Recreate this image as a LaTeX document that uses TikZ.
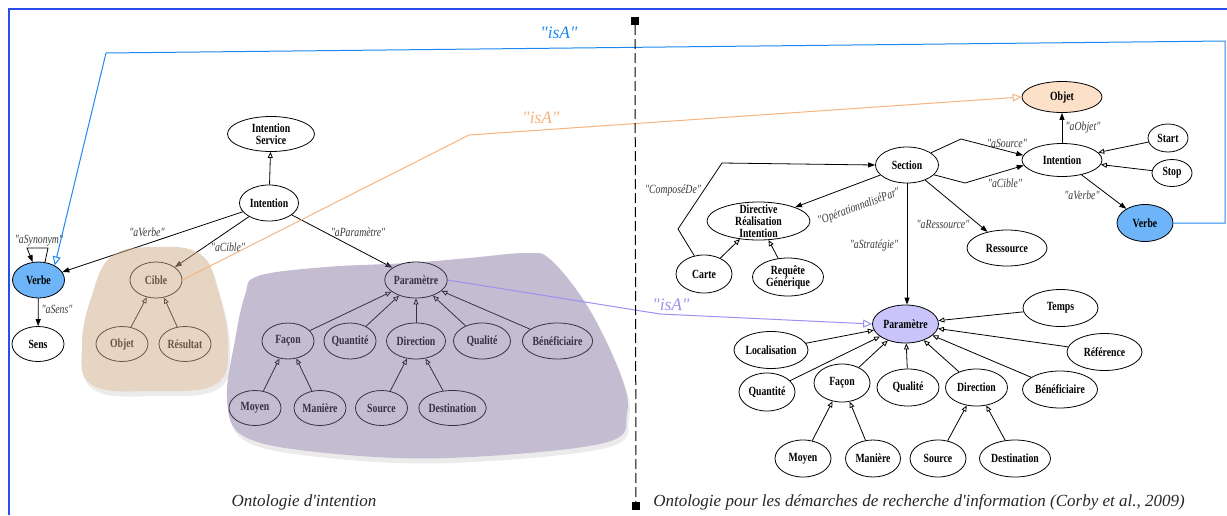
\documentclass[tikz,border=0pt]{standalone}
\usepackage{fontspec}
\setmainfont{Liberation Serif}[Ligatures=TeXOff]
\newfontfamily\nfont{Liberation Serif}[FakeStretch=0.78, Ligatures=TeXOff]
\usetikzlibrary{shapes.geometric, arrows.meta}
\definecolor{frameblue}{HTML}{2A4DF0}
\definecolor{isablue}{HTML}{1E88F0}
\definecolor{isaorange}{HTML}{F8B47E}
\definecolor{isapurple}{HTML}{9C90F2}
\definecolor{verbefill}{HTML}{6DB5F8}
\definecolor{objfill}{HTML}{FCE0C8}
\definecolor{paramfill}{HTML}{C9C5FA}
\definecolor{tanblob}{HTML}{D1AD8A}
\definecolor{purpblob}{HTML}{7D6B99}
\definecolor{lblgray}{HTML}{3A3A3A}
\begin{document}
\begin{tikzpicture}[x=1pt,y=-1pt,
  nd/.style={ellipse, draw, line width=0.8pt, inner sep=0pt, align=center,
    font=\nfont\bfseries\fontsize{12.5}{12}\selectfont},
  sz/.style 2 args={minimum width=#1pt, minimum height=#2pt},
  txt/.style={inner sep=0pt, align=center, font=\nfont\bfseries\fontsize{12.5}{12}\selectfont},
  lbl/.style={inner sep=0pt, text=lblgray, font=\nfont\itshape\fontsize{12.5}{12}\selectfont},
  isalbl/.style={inner sep=0pt, font=\itshape\fontsize{17.5}{18}\selectfont},
  caption/.style={inner sep=0pt, text=black!85, font=\itshape\fontsize{17}{18}\selectfont},
  rel/.style={draw, line width=0.8pt, -{Triangle[length=7pt,width=5pt]}},
  sub/.style={draw, line width=0.8pt, -{Triangle[open,length=6pt,width=5pt]}},
  isa/.style={draw=#1, line width=1pt, -{Triangle[open,length=9pt,width=8pt]}},
  sq/.style={fill=black, minimum size=8pt, inner sep=0pt}
]
\useasboundingbox (0,0) rectangle (1227,515);
% frame
\draw[frameblue, line width=1.8pt] (9,515) -- (9,9) -- (1227,9);

% blob shadows and white base
\fill[black!8, shift={(2,5)}] plot[smooth cycle, tension=0.7] coordinates {(155,247) (200,254) (218,290) (228,345) (216,384) (155,391) (92,385) (82,345) (92,295) (112,256)};
\fill[black!8, shift={(2,5)}] plot[smooth cycle, tension=0.6] coordinates {(258,276) (326,267) (408,263) (469,258) (527,253) (551,260) (588,307) (620,373) (627,413) (604,443) (449,458) (326,453) (245,437) (227,400) (235,340) (245,295)};
\fill[white] plot[smooth cycle, tension=0.7] coordinates {(155,247) (200,254) (218,290) (228,345) (216,384) (155,391) (92,385) (82,345) (92,295) (112,256)};
\fill[white] plot[smooth cycle, tension=0.6] coordinates {(258,276) (326,267) (408,263) (469,258) (527,253) (551,260) (588,307) (620,373) (627,413) (604,443) (449,458) (326,453) (245,437) (227,400) (235,340) (245,295)};

% ---------- left ontology ----------
\node[nd, sz={87}{35}] (IS) at (271,134) {Intention\\Service};
\node[nd, sz={59}{36}] (IL) at (269,203) {Intention};
\node[nd, sz={52}{36}, fill=verbefill] (VL) at (38.5,280) {Verbe};
\node[nd, sz={52}{35}] (SensL) at (38,344) {Sens};
\node[nd, sz={52}{36}] (CibleL) at (156,280) {Cible};
\node[nd, sz={52}{35}] (ObjL) at (122,344) {Objet};
\node[nd, sz={52}{35}] (ResL) at (185,344) {Résultat};
\node[nd, sz={62}{36}] (PL) at (416,280) {Paramètre};
\node[nd, sz={52}{36}] (FaL) at (288,341) {Façon};
\node[nd, sz={52}{36}] (QuL) at (350,341) {Quantité};
\node[nd, sz={59}{36}] (DiL) at (416,341) {Direction};
\node[nd, sz={57}{36}] (QaL) at (482,341) {Qualité};
\node[nd, sz={70}{36}] (BeL) at (557.5,341) {Bénéficiaire};
\node[nd, sz={52}{35}] (MoL) at (255,408) {Moyen};
\node[nd, sz={52}{35}] (MaL) at (320,408) {Manière};
\node[nd, sz={52}{35}] (SoL) at (381.5,408) {Source};
\node[nd, sz={67}{35}] (DeL) at (452.5,408) {Destination};

\draw[sub] (IL) -- (IS);
\draw[rel] (IL) -- (VL);
\draw[rel] (IL) -- (CibleL);
\draw[rel] (IL) -- (PL);
\coordinate (syn1) at (48,248);
\coordinate (syn2) at (27,248);
\draw[rel] (VL.70) -- (syn1) -- (syn2) -- (VL.108);
\draw[rel] (VL) -- (SensL);
\draw[sub] (ObjL) -- (CibleL);
\draw[sub] (ResL) -- (CibleL);
\foreach \n in {FaL,QuL,DiL,QaL,BeL} \draw[sub] (\n) -- (PL);
\draw[sub] (MoL) -- (FaL);
\draw[sub] (MaL) -- (FaL);
\draw[sub] (SoL) -- (DiL);
\draw[sub] (DeL) -- (DiL);

\node[lbl] (lSyn) at (39,241) {"aSynonym"};
\node[lbl] (lVerbeL) at (147,232) {"aVerbe"};
\node[lbl] (lCibleL) at (228,247) {"aCible"};
\node[lbl] (lParam) at (358,232) {"aParamètre"};
\node[lbl] (lSens) at (57,309) {"aSens"};

% blob overlays
\fill[tanblob, fill opacity=0.5] plot[smooth cycle, tension=0.7] coordinates {(155,247) (200,254) (218,290) (228,345) (216,384) (155,391) (92,385) (82,345) (92,295) (112,256)};
\fill[purpblob, fill opacity=0.45] plot[smooth cycle, tension=0.6] coordinates {(258,276) (326,267) (408,263) (469,258) (527,253) (551,260) (588,307) (620,373) (627,413) (604,443) (449,458) (326,453) (245,437) (227,400) (235,340) (245,295)};

% ---------- right ontology ----------
\node[nd, sz={80}{31}, fill=objfill] (ObjR) at (1062,97) {Objet};
\node[nd, sz={80}{33}] (IR) at (1062,160) {Intention};
\node[nd, sz={40}{28}] (Start) at (1168,138) {Start};
\node[nd, sz={40}{27}] (Stop) at (1172,173) {Stop};
\node[nd, sz={56}{37}, fill=verbefill] (VR) at (1145,223) {Verbe};
\node[nd, sz={63}{36}] (Sec) at (907,165) {Section};
\node[nd, sz={103}{38}, label={[txt]center:{Directive\\Réalisation\\Intention}}] (Dir) at (758.5,221) {};
\node[nd, sz={80}{36}] (Res) at (1007,248) {Ressource};
\node[nd, sz={56}{38}] (Carte) at (704,274) {Carte};
\node[nd, sz={71}{38}] (Req) at (788,277) {Requête\\Générique};
\node[nd, sz={66}{38}, fill=paramfill] (PR) at (905.5,324) {Paramètre};
\node[nd, sz={75}{37}] (Temps) at (1060.5,308) {Temps};
\node[nd, sz={74}{37}] (Loc) at (771,350) {Localisation};
\node[nd, sz={75}{37}] (Ref) at (1104.5,352) {Référence};
\node[nd, sz={56}{38}] (QuR) at (767,392) {Quantité};
\node[nd, sz={56}{38}] (FaR) at (842,383) {Façon};
\node[nd, sz={62}{37}] (QaR) at (908,387.5) {Qualité};
\node[nd, sz={62}{37}] (DiR) at (976.5,387.5) {Direction};
\node[nd, sz={75}{37}] (BeR) at (1060,389.5) {Bénéficiaire};
\node[nd, sz={56}{37}] (MoR) at (803,458.5) {Moyen};
\node[nd, sz={55}{37}] (MaR) at (873,458.5) {Manière};
\node[nd, sz={56}{37}] (SoR) at (938,458.5) {Source};
\node[nd, sz={71}{37}] (DeR) at (1015,458.5) {Destination};

\coordinate (src) at (961,139);
\coordinate (cib) at (965,183);
\draw[rel] (Sec.27) -- (src) -- (IR.173);
\draw[rel] (Sec.-20) -- (cib) -- (IR.188);
\draw[rel] (IR) -- (ObjR);
\draw[sub] (Start) -- (IR);
\draw[sub] (Stop) -- (IR);
\draw[rel] (IR) -- (VR);
\draw[rel] (Sec) -- (Dir);
\coordinate (cd1) at (678,229);
\coordinate (cd2) at (722,163);
\draw[rel] (Carte.118) -- (cd1) -- (cd2) -- (Sec.west);
\draw[sub] (Carte) -- (Dir);
\draw[sub] (Req) -- (Dir);
\draw[rel] (Sec) -- (Res);
\draw[rel] (Sec.south) -- (Sec.south |- PR.north);
\foreach \n in {Temps,Loc,Ref,QuR,FaR,QaR,DiR,BeR} \draw[sub] (\n) -- (PR);
\draw[sub] (MoR) -- (FaR);
\draw[sub] (MaR) -- (FaR);
\draw[sub] (SoR) -- (DiR);
\draw[sub] (DeR) -- (DiR);

\node[lbl] (lComp) at (673,190) {"ComposéDe"};
\node[lbl, rotate=20] (lOp) at (859,207) {"OpérationnaliséPar"};
\node[lbl] (lSrc) at (1007,143) {"aSource"};
\node[lbl] (lCibR) at (1005,183) {"aCible"};
\node[lbl] (lObj) at (1083,127) {"aObjet"};
\node[lbl] (lVerbR) at (1082,195) {"aVerbe"};
\node[lbl] (lRes) at (943,224) {"aRessource"};
\node[lbl] (lStr) at (874,245) {"aStratégie"};

% ---------- isA links ----------
\coordinate (b1) at (1225,223);
\coordinate (b2) at (1225,41);
\coordinate (b3) at (106,53);
\draw[isa=isablue] (VR.east) -- (b1) -- (b2) -- (b3) -- (VL.42);
\coordinate (o1) at (469,135);
\draw[isa=isaorange] (CibleL.east) -- (o1) -- (ObjR.west);
\coordinate (p1) at (660,314);
\draw[isa=isapurple] (PL.east) -- (p1) -- (PR.west);
\node[isalbl, text=isablue] (isa1) at (559,33) {"isA"};
\node[isalbl, text=isaorange] (isa2) at (541,118) {"isA"};
\node[isalbl, text=isapurple] (isa3) at (671,305) {"isA"};

% divider
\node[sq] (sqT) at (635,21) {};
\node[sq] (sqB) at (636,506) {};
\draw[line width=1pt, dash pattern=on 10pt off 4pt] (sqT) -- (sqB);

% captions
\node[caption] (capL) at (304,502) {Ontologie d'intention};
\node[caption] (capR) at (919,502) {Ontologie pour les démarches de recherche d'information (Corby et al., 2009)};
\end{tikzpicture}
\end{document}
